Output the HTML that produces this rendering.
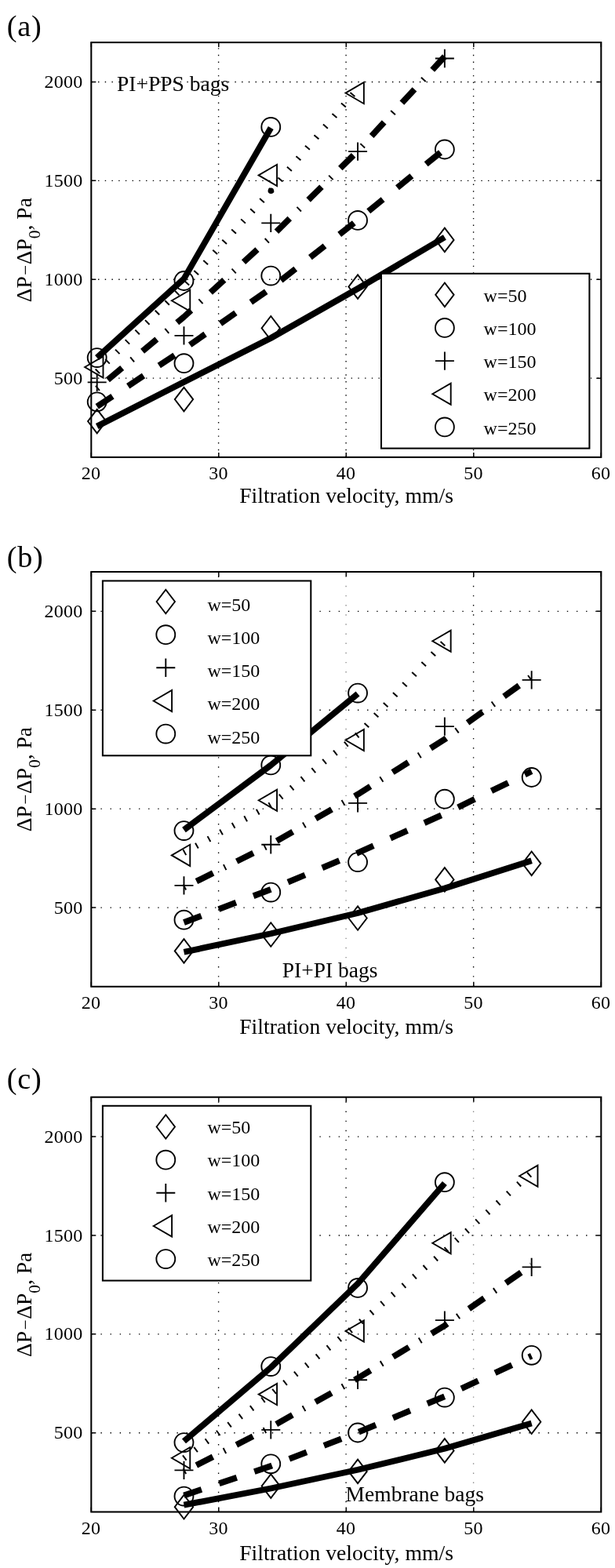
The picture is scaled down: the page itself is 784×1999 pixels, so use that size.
<!DOCTYPE html>
<html lang="en"><head><meta charset="utf-8"><title>Pressure drop versus filtration velocity</title>
<style>html,body{margin:0;padding:0;background:#fff}svg{display:block}text{font-family:'Liberation Serif', 'DejaVu Serif', serif;fill:#000}</style>
</head><body>
<svg width="784" height="1999" viewBox="0 0 784 1999">
<rect width="784" height="1999" fill="#fff"/>
<g>
<text x="8.8" y="45.6" font-size="38.3" letter-spacing="0.7">(a)</text>
<g stroke="#000" stroke-width="1.35" fill="none">
<path d="M278.6 582.9V54.1" stroke-dasharray="1.4 7.27" stroke-dashoffset="8.57"/>
<path d="M441.1 582.9V54.1" stroke-dasharray="1.4 7.27" stroke-dashoffset="8.57"/>
<path d="M603.6 582.9V54.1" stroke-dasharray="1.4 7.27" stroke-dashoffset="8.57"/>
<path d="M116.3 482.18H766.3" stroke-dasharray="1.4 7.32" stroke-dashoffset="8.72"/>
<path d="M116.3 356.27H766.3" stroke-dasharray="1.4 7.32" stroke-dashoffset="8.72"/>
<path d="M116.3 230.37H766.3" stroke-dasharray="1.4 7.32" stroke-dashoffset="8.72"/>
<path d="M116.3 104.46H766.3" stroke-dasharray="1.4 7.32" stroke-dashoffset="8.72"/>
</g>
<path d="M116.3 582.9v-6M116.3 54.1v6M278.8 582.9v-6M278.8 54.1v6M441.3 582.9v-6M441.3 54.1v6M603.8 582.9v-6M603.8 54.1v6M766.3 582.9v-6M766.3 54.1v6M116.3 482.18h6M766.3 482.18h-6M116.3 356.27h6M766.3 356.27h-6M116.3 230.37h6M766.3 230.37h-6M116.3 104.46h6M766.3 104.46h-6" stroke="#000" stroke-width="1.5" fill="none"/>
<path d="M123.69 543.5L234.48 487L345.28 431L456.07 368L566.87 302.5" stroke="#000" stroke-width="7.8" fill="none" stroke-linejoin="round"/>
<path d="M123.69 518.3L234.48 445L345.28 367.5L456.07 280.5L566.87 190" stroke="#000" stroke-width="7.8" fill="none" stroke-linejoin="round" stroke-dasharray="23.7 23.7"/>
<path d="M123.69 495.5L234.48 404L345.28 302.3L456.07 192.5L566.87 72" stroke="#000" stroke-width="7.8" fill="none" stroke-linejoin="round" stroke-dasharray="1.98 15.8 23.7 15.8"/>
<path d="M123.69 474L234.48 365L345.28 243.3L456.07 112.6" stroke="#000" stroke-width="7.8" fill="none" stroke-linejoin="round" stroke-dasharray="1.98 15.8"/>
<path d="M123.69 456L234.48 355.4L345.28 163" stroke="#000" stroke-width="7.8" fill="none" stroke-linejoin="round"/>
<circle cx="345.4" cy="243.3" r="3.8" fill="#000"/>
<g stroke="#000" stroke-width="1.9" fill="none" stroke-linejoin="miter" stroke-miterlimit="10">
<path d="M111.99 537.1L123.69 521.8L135.39 537.1L123.69 552.4Z"/>
<path d="M222.78 509.1L234.48 493.8L246.18 509.1L234.48 524.4Z"/>
<path d="M333.58 418.3L345.28 403L356.98 418.3L345.28 433.6Z"/>
<path d="M444.37 365.6L456.07 350.3L467.77 365.6L456.07 380.9Z"/>
<path d="M555.17 305.9L566.87 290.6L578.57 305.9L566.87 321.2Z"/>
<circle cx="123.69" cy="512.3" r="11.95"/>
<circle cx="234.48" cy="463.2" r="11.95"/>
<circle cx="345.28" cy="351.6" r="11.95"/>
<circle cx="456.07" cy="280.9" r="11.95"/>
<circle cx="566.87" cy="190.5" r="11.95"/>
<path d="M111.69 487.4H135.69M123.69 475.7V499.1"/>
<path d="M222.48 427.9H246.48M234.48 416.2V439.6"/>
<path d="M333.28 284.4H357.28M345.28 272.7V296.1"/>
<path d="M444.07 193.1H468.07M456.07 181.4V204.8"/>
<path d="M554.87 74.5H578.87M566.87 62.8V86.2"/>
<path d="M108.09 468L131.49 454.4V481.6Z"/>
<path d="M218.88 383.2L242.28 369.6V396.8Z"/>
<path d="M329.68 223.4L353.08 209.8V237Z"/>
<path d="M440.47 118.6L463.87 105V132.2Z"/>
<circle cx="123.69" cy="456.1" r="11.95"/>
<circle cx="234.48" cy="358" r="11.95"/>
<circle cx="345.28" cy="161.9" r="11.95"/>
</g>
<rect x="116.3" y="54.1" width="650" height="528.8" fill="none" stroke="#000" stroke-width="2.05"/>
<g font-size="24" letter-spacing="0.25" text-anchor="middle">
<text x="115.9" y="610.5">20</text>
<text x="278.4" y="610.5">30</text>
<text x="440.9" y="610.5">40</text>
<text x="603.4" y="610.5">50</text>
<text x="765.9" y="610.5">60</text>
</g>
<g font-size="24" letter-spacing="0.25" text-anchor="end">
<text x="105.6" y="489.78">500</text>
<text x="105.6" y="363.87">1000</text>
<text x="105.6" y="237.97">1500</text>
<text x="105.6" y="112.06">2000</text>
</g>
<text x="441.6" y="640.6" font-size="27.7" text-anchor="middle">Filtration velocity, mm/s</text>
<text transform="translate(39.7 385.3) rotate(-90)" font-size="27.5">ΔP<tspan font-size="23" dx="1.6" dy="0.2">−</tspan><tspan dx="0.6" dy="-0.2">ΔP</tspan><tspan font-size="21.5" dy="11.2">0</tspan><tspan dy="-11.2">, Pa</tspan></text>
<text x="149" y="116" font-size="27.5">PI+PPS bags</text>
<rect x="486" y="348.8" width="265.4" height="222.8" fill="#fff" stroke="#000" stroke-width="2.05"/>
<g stroke="#000" stroke-width="1.9" fill="none" stroke-miterlimit="10">
<path d="M555.2 375.8L566.9 360.5L578.6 375.8L566.9 391.1Z"/>
<circle cx="566.9" cy="417.95" r="11.95"/>
<path d="M554.9 460.1H578.9M566.9 448.4V471.8"/>
<path d="M551.3 502.25L574.7 488.65V515.85Z"/>
<circle cx="566.9" cy="544.4" r="11.95"/>
</g>
<g font-size="24">
<text x="616.6" y="384.9">w=50</text>
<text x="616.6" y="427.05">w=100</text>
<text x="616.6" y="469.2">w=150</text>
<text x="616.6" y="511.35">w=200</text>
<text x="616.6" y="553.5">w=250</text>
</g>
</g>
<g>
<text x="8.8" y="723.3" font-size="38.3" letter-spacing="0.7">(b)</text>
<g stroke="#000" stroke-width="1.35" fill="none">
<path d="M278.6 1257.8V729" stroke-dasharray="1.4 10.73" stroke-dashoffset="12.03"/>
<path d="M441.1 1257.8V729" stroke-dasharray="1.4 10.73" stroke-dashoffset="12.03" stroke="#8c8c8c"/>
<path d="M603.6 1257.8V729" stroke-dasharray="1.4 10.73" stroke-dashoffset="12.03"/>
<path d="M116.3 1157.08H766.3" stroke-dasharray="1.4 10.73" stroke-dashoffset="12.13"/>
<path d="M116.3 1031.17H766.3" stroke-dasharray="1.4 10.73" stroke-dashoffset="12.13"/>
<path d="M116.3 905.27H766.3" stroke-dasharray="1.4 10.73" stroke-dashoffset="12.13"/>
<path d="M116.3 779.36H766.3" stroke-dasharray="1.4 10.73" stroke-dashoffset="12.13"/>
</g>
<path d="M116.3 1257.8v-6M116.3 729v6M278.8 1257.8v-6M278.8 729v6M441.3 1257.8v-6M441.3 729v6M603.8 1257.8v-6M603.8 729v6M766.3 1257.8v-6M766.3 729v6M116.3 1157.08h6M766.3 1157.08h-6M116.3 1031.17h6M766.3 1031.17h-6M116.3 905.27h6M766.3 905.27h-6M116.3 779.36h6M766.3 779.36h-6" stroke="#000" stroke-width="1.5" fill="none"/>
<path d="M234.48 1213.7L345.28 1190.3L456.07 1164L566.87 1132.5L677.66 1097.2" stroke="#000" stroke-width="7.8" fill="none" stroke-linejoin="round"/>
<path d="M234.48 1176L345.28 1133.8L456.07 1087.3L566.87 1037.5L677.66 983.3" stroke="#000" stroke-width="7.8" fill="none" stroke-linejoin="round" stroke-dasharray="23.7 23.7"/>
<path d="M234.48 1131.5L345.28 1076.5L456.07 1012.7L566.87 942.5L677.66 862.5" stroke="#000" stroke-width="7.8" fill="none" stroke-linejoin="round" stroke-dasharray="1.98 15.8 23.7 15.8"/>
<path d="M234.48 1087.2L345.28 1026L456.07 936.7L566.87 818" stroke="#000" stroke-width="7.8" fill="none" stroke-linejoin="round" stroke-dasharray="1.98 15.8"/>
<path d="M234.48 1058L345.28 975.5L456.07 884.5" stroke="#000" stroke-width="7.8" fill="none" stroke-linejoin="round"/>

<g stroke="#000" stroke-width="1.9" fill="none" stroke-linejoin="miter" stroke-miterlimit="10">
<path d="M222.78 1212.4L234.48 1197.1L246.18 1212.4L234.48 1227.7Z"/>
<path d="M333.58 1191.5L345.28 1176.2L356.98 1191.5L345.28 1206.8Z"/>
<path d="M444.37 1170.5L456.07 1155.2L467.77 1170.5L456.07 1185.8Z"/>
<path d="M555.17 1121.4L566.87 1106.1L578.57 1121.4L566.87 1136.7Z"/>
<path d="M665.96 1100.8L677.66 1085.5L689.36 1100.8L677.66 1116.1Z"/>
<circle cx="234.48" cy="1172.7" r="11.95"/>
<circle cx="345.28" cy="1137.6" r="11.95"/>
<circle cx="456.07" cy="1099.1" r="11.95"/>
<circle cx="566.87" cy="1018.7" r="11.95"/>
<circle cx="677.66" cy="991" r="11.95"/>
<path d="M222.48 1128.9H246.48M234.48 1117.2V1140.6"/>
<path d="M333.28 1076.8H357.28M345.28 1065.1V1088.5"/>
<path d="M444.07 1023.9H468.07M456.07 1012.2V1035.6"/>
<path d="M554.87 926.1H578.87M566.87 914.4V937.8"/>
<path d="M665.66 866.9H689.66M677.66 855.2V878.6"/>
<path d="M218.88 1090.4L242.28 1076.8V1104Z"/>
<path d="M329.68 1020.3L353.08 1006.7V1033.9Z"/>
<path d="M440.47 943.5L463.87 929.9V957.1Z"/>
<path d="M551.27 817.3L574.67 803.7V830.9Z"/>
<circle cx="234.48" cy="1059.1" r="11.95"/>
<circle cx="345.28" cy="975.4" r="11.95"/>
<circle cx="456.07" cy="883.6" r="11.95"/>
</g>
<rect x="116.3" y="729" width="650" height="528.8" fill="none" stroke="#000" stroke-width="2.05"/>
<g font-size="24" letter-spacing="0.25" text-anchor="middle">
<text x="115.9" y="1285.5">20</text>
<text x="278.4" y="1285.5">30</text>
<text x="440.9" y="1285.5">40</text>
<text x="603.4" y="1285.5">50</text>
<text x="765.9" y="1285.5">60</text>
</g>
<g font-size="24" letter-spacing="0.25" text-anchor="end">
<text x="105.6" y="1164.68">500</text>
<text x="105.6" y="1038.77">1000</text>
<text x="105.6" y="912.87">1500</text>
<text x="105.6" y="786.96">2000</text>
</g>
<text x="441.6" y="1318.4" font-size="27.7" text-anchor="middle">Filtration velocity, mm/s</text>
<text transform="translate(39.7 1060.2) rotate(-90)" font-size="27.5">ΔP<tspan font-size="23" dx="1.6" dy="0.2">−</tspan><tspan dx="0.6" dy="-0.2">ΔP</tspan><tspan font-size="21.5" dy="11.2">0</tspan><tspan dy="-11.2">, Pa</tspan></text>
<text x="359.7" y="1245.7" font-size="27.5">PI+PI bags</text>
<rect x="130.9" y="740.5" width="265.4" height="222.8" fill="#fff" stroke="#000" stroke-width="2.05"/>
<g stroke="#000" stroke-width="1.9" fill="none" stroke-miterlimit="10">
<path d="M199.6 767L211.3 751.7L223 767L211.3 782.3Z"/>
<circle cx="211.3" cy="809.15" r="11.95"/>
<path d="M199.3 851.3H223.3M211.3 839.6V863"/>
<path d="M195.7 893.45L219.1 879.85V907.05Z"/>
<circle cx="211.3" cy="935.6" r="11.95"/>
</g>
<g font-size="24">
<text x="264.5" y="778.9">w=50</text>
<text x="264.5" y="821.05">w=100</text>
<text x="264.5" y="863.2">w=150</text>
<text x="264.5" y="905.35">w=200</text>
<text x="264.5" y="947.5">w=250</text>
</g>
</g>
<g>
<text x="8.8" y="1387.7" font-size="38.3" letter-spacing="0.7">(c)</text>
<g stroke="#000" stroke-width="1.35" fill="none">
<path d="M278.6 1927.5V1398.7" stroke-dasharray="1.4 10.73" stroke-dashoffset="12.03"/>
<path d="M441.1 1927.5V1398.7" stroke-dasharray="1.4 10.73" stroke-dashoffset="12.03"/>
<path d="M603.6 1927.5V1398.7" stroke-dasharray="1.4 10.73" stroke-dashoffset="12.03" stroke="#8c8c8c"/>
<path d="M116.3 1826.78H766.3" stroke-dasharray="1.4 10.73" stroke-dashoffset="12.13"/>
<path d="M116.3 1700.87H766.3" stroke-dasharray="1.4 10.73" stroke-dashoffset="12.13"/>
<path d="M116.3 1574.97H766.3" stroke-dasharray="1.4 10.73" stroke-dashoffset="12.13"/>
<path d="M116.3 1449.06H766.3" stroke-dasharray="1.4 10.73" stroke-dashoffset="12.13"/>
</g>
<path d="M116.3 1927.5v-6M116.3 1398.7v6M278.8 1927.5v-6M278.8 1398.7v6M441.3 1927.5v-6M441.3 1398.7v6M603.8 1927.5v-6M603.8 1398.7v6M766.3 1927.5v-6M766.3 1398.7v6M116.3 1826.78h6M766.3 1826.78h-6M116.3 1700.87h6M766.3 1700.87h-6M116.3 1574.97h6M766.3 1574.97h-6M116.3 1449.06h6M766.3 1449.06h-6" stroke="#000" stroke-width="1.5" fill="none"/>
<path d="M234.48 1918.7L345.28 1897.5L456.07 1873.8L566.87 1846.8L677.66 1814.5" stroke="#000" stroke-width="7.8" fill="none" stroke-linejoin="round"/>
<path d="M234.48 1906.5L345.28 1869L456.07 1826.2L566.87 1780.2L677.66 1728.6" stroke="#000" stroke-width="7.8" fill="none" stroke-linejoin="round" stroke-dasharray="23.7 23.7"/>
<path d="M234.48 1876L345.28 1819.5L456.07 1757L566.87 1690L677.66 1613" stroke="#000" stroke-width="7.8" fill="none" stroke-linejoin="round" stroke-dasharray="1.98 15.8 23.7 15.8"/>
<path d="M234.48 1859.1L345.28 1777.4L456.07 1688.4L566.87 1595L677.66 1495" stroke="#000" stroke-width="7.8" fill="none" stroke-linejoin="round" stroke-dasharray="1.98 15.8"/>
<path d="M234.48 1837.4L345.28 1743.4L456.07 1636.5L566.87 1508.5" stroke="#000" stroke-width="7.8" fill="none" stroke-linejoin="round"/>

<g stroke="#000" stroke-width="1.9" fill="none" stroke-linejoin="miter" stroke-miterlimit="10">
<path d="M222.78 1921.2L234.48 1905.9L246.18 1921.2L234.48 1936.5Z"/>
<path d="M333.58 1894.6L345.28 1879.3L356.98 1894.6L345.28 1909.9Z"/>
<path d="M444.37 1875.9L456.07 1860.6L467.77 1875.9L456.07 1891.2Z"/>
<path d="M555.17 1849.4L566.87 1834.1L578.57 1849.4L566.87 1864.7Z"/>
<path d="M665.96 1812.7L677.66 1797.4L689.36 1812.7L677.66 1828Z"/>
<circle cx="234.48" cy="1907.6" r="11.95"/>
<circle cx="345.28" cy="1866.3" r="11.95"/>
<circle cx="456.07" cy="1826.5" r="11.95"/>
<circle cx="566.87" cy="1781.6" r="11.95"/>
<circle cx="677.66" cy="1727.8" r="11.95"/>
<path d="M222.48 1874.4H246.48M234.48 1862.7V1886.1"/>
<path d="M333.28 1822.9H357.28M345.28 1811.2V1834.6"/>
<path d="M444.07 1759.2H468.07M456.07 1747.5V1770.9"/>
<path d="M554.87 1683.1H578.87M566.87 1671.4V1694.8"/>
<path d="M665.66 1615.4H689.66M677.66 1603.7V1627.1"/>
<path d="M218.88 1858.7L242.28 1845.1V1872.3Z"/>
<path d="M329.68 1777.6L353.08 1764V1791.2Z"/>
<path d="M440.47 1697L463.87 1683.4V1710.6Z"/>
<path d="M551.27 1584.8L574.67 1571.2V1598.4Z"/>
<path d="M662.06 1499.3L685.46 1485.7V1512.9Z"/>
<circle cx="234.48" cy="1839.1" r="11.95"/>
<circle cx="345.28" cy="1742.1" r="11.95"/>
<circle cx="456.07" cy="1641.9" r="11.95"/>
<circle cx="566.87" cy="1507.2" r="11.95"/>
</g>
<rect x="116.3" y="1398.7" width="650" height="528.8" fill="none" stroke="#000" stroke-width="2.05"/>
<g font-size="24" letter-spacing="0.25" text-anchor="middle">
<text x="115.9" y="1955.6">20</text>
<text x="278.4" y="1955.6">30</text>
<text x="440.9" y="1955.6">40</text>
<text x="603.4" y="1955.6">50</text>
<text x="765.9" y="1955.6">60</text>
</g>
<g font-size="24" letter-spacing="0.25" text-anchor="end">
<text x="105.6" y="1834.38">500</text>
<text x="105.6" y="1708.47">1000</text>
<text x="105.6" y="1582.57">1500</text>
<text x="105.6" y="1456.66">2000</text>
</g>
<text x="441.6" y="1988.5" font-size="27.7" text-anchor="middle">Filtration velocity, mm/s</text>
<text transform="translate(39.7 1729.9) rotate(-90)" font-size="27.5">ΔP<tspan font-size="23" dx="1.6" dy="0.2">−</tspan><tspan dx="0.6" dy="-0.2">ΔP</tspan><tspan font-size="21.5" dy="11.2">0</tspan><tspan dy="-11.2">, Pa</tspan></text>
<text x="440.6" y="1914.2" font-size="27.5">Membrane bags</text>
<rect x="130.9" y="1409.8" width="265.4" height="222.8" fill="#fff" stroke="#000" stroke-width="2.05"/>
<g stroke="#000" stroke-width="1.9" fill="none" stroke-miterlimit="10">
<path d="M199.6 1436.5L211.3 1421.2L223 1436.5L211.3 1451.8Z"/>
<circle cx="211.3" cy="1478.65" r="11.95"/>
<path d="M199.3 1520.8H223.3M211.3 1509.1V1532.5"/>
<path d="M195.7 1562.95L219.1 1549.35V1576.55Z"/>
<circle cx="211.3" cy="1605.1" r="11.95"/>
</g>
<g font-size="24">
<text x="264.5" y="1445.3">w=50</text>
<text x="264.5" y="1487.45">w=100</text>
<text x="264.5" y="1529.6">w=150</text>
<text x="264.5" y="1571.75">w=200</text>
<text x="264.5" y="1613.9">w=250</text>
</g>
</g>
</svg>
</body></html>
